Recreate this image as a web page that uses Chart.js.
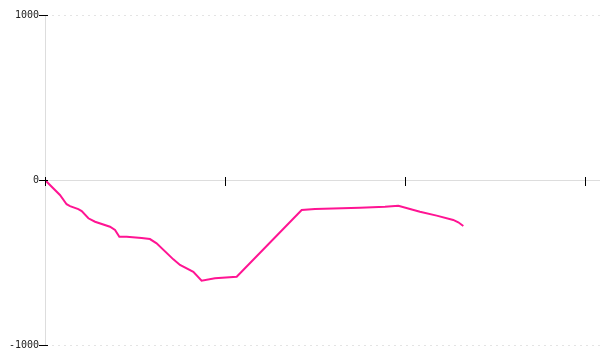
<!DOCTYPE html>
<html>
<head>
<meta charset="utf-8">
<script src="https://cdn.jsdelivr.net/npm/chart.js@4/dist/chart.umd.min.js"></script>
<style>
  html, body { margin: 0; padding: 0; background: #fff; }
  #wrap { width: 600px; height: 360px; }
</style>
</head>
<body>
<div id="wrap"><canvas id="lineChart" width="600" height="360"></canvas></div>
<script>
// Data
const xValues = [0, 0.083, 0.12, 0.139, 0.185, 0.204, 0.241, 0.278, 0.361, 0.389, 0.413, 0.454,
    0.537, 0.583, 0.62, 0.713, 0.75, 0.824, 0.87, 0.944, 1.065, 1.426, 1.5, 1.75,
    1.889, 1.963, 2.083, 2.176, 2.268, 2.296, 2.324];
const yValues = [0, -91, -147, -158, -176, -188, -232, -253, -283, -303, -344, -344,
    -352, -358, -384, -481, -515, -556, -610, -596, -586, -182, -176, -168,
    -162, -156, -192, -216, -242, -256, -279];
const xTicks = [0, 1, 2, 3];
const yTicks = [-1000, 0, 1000];

const points = xValues.map((x, i) => ({ x: x, y: yValues[i] }));

// black tick marks that cross the axis lines
const crossTicks = {
    id: 'crossTicks',
    afterDraw(chart) {
        const ctx = chart.ctx;
        const xs = chart.scales.x;
        const ys = chart.scales.y;
        const y0 = Math.round(ys.getPixelForValue(0));
        ctx.save();
        ctx.strokeStyle = '#000';
        ctx.lineWidth = 1;
        ctx.beginPath();
        xs.ticks.forEach(t => {
            const px = Math.round(xs.getPixelForValue(t.value)) + 0.5;
            ctx.moveTo(px, y0 - 3);
            ctx.lineTo(px, y0 + 6);
        });
        ys.ticks.forEach(t => {
            const py = Math.round(ys.getPixelForValue(t.value)) + 0.5;
            ctx.moveTo(ys.right - 6, py);
            ctx.lineTo(ys.right + 3, py);
        });
        ctx.stroke();
        ctx.restore();
    }
};

new Chart(document.getElementById('lineChart'), {
    type: 'line',
    data: {
        datasets: [{
            data: points,
            borderColor: '#ff1493',
            borderWidth: 2,
            pointRadius: 0,
            tension: 0,
            fill: false
        }]
    },
    options: {
        responsive: false,
        animation: false,
        layout: { padding: { top: 15, bottom: 15, left: 0, right: 0 } },
        plugins: {
            legend: { display: false },
            tooltip: { enabled: false }
        },
        scales: {
            x: {
                type: 'linear',
                position: { y: 0 },
                min: 0,
                max: 3 + 15 / 180,
                afterBuildTicks: scale => { scale.ticks = xTicks.map(v => ({ value: v })); },
                ticks: { display: false },
                grid: { display: false },
                border: { display: true, color: '#dddddd', width: 1 }
            },
            y: {
                min: -1000,
                max: 1000,
                afterBuildTicks: scale => { scale.ticks = yTicks.map(v => ({ value: v })); },
                afterFit: scale => { scale.width = 45; },
                ticks: {
                    padding: 6,
                    color: '#222',
                    font: { family: 'DejaVu Sans Mono', size: 10 },
                    callback: v => String(v)
                },
                grid: {
                    drawTicks: false,
                    color: ctx => ctx.tick && ctx.tick.value === 0 ? 'rgba(0,0,0,0)' : '#e4e4e4'
                },
                border: { display: true, color: '#dddddd', width: 1, dash: [2, 4] }
            }
        }
    },
    plugins: [crossTicks]
});
</script>
</body>
</html>
